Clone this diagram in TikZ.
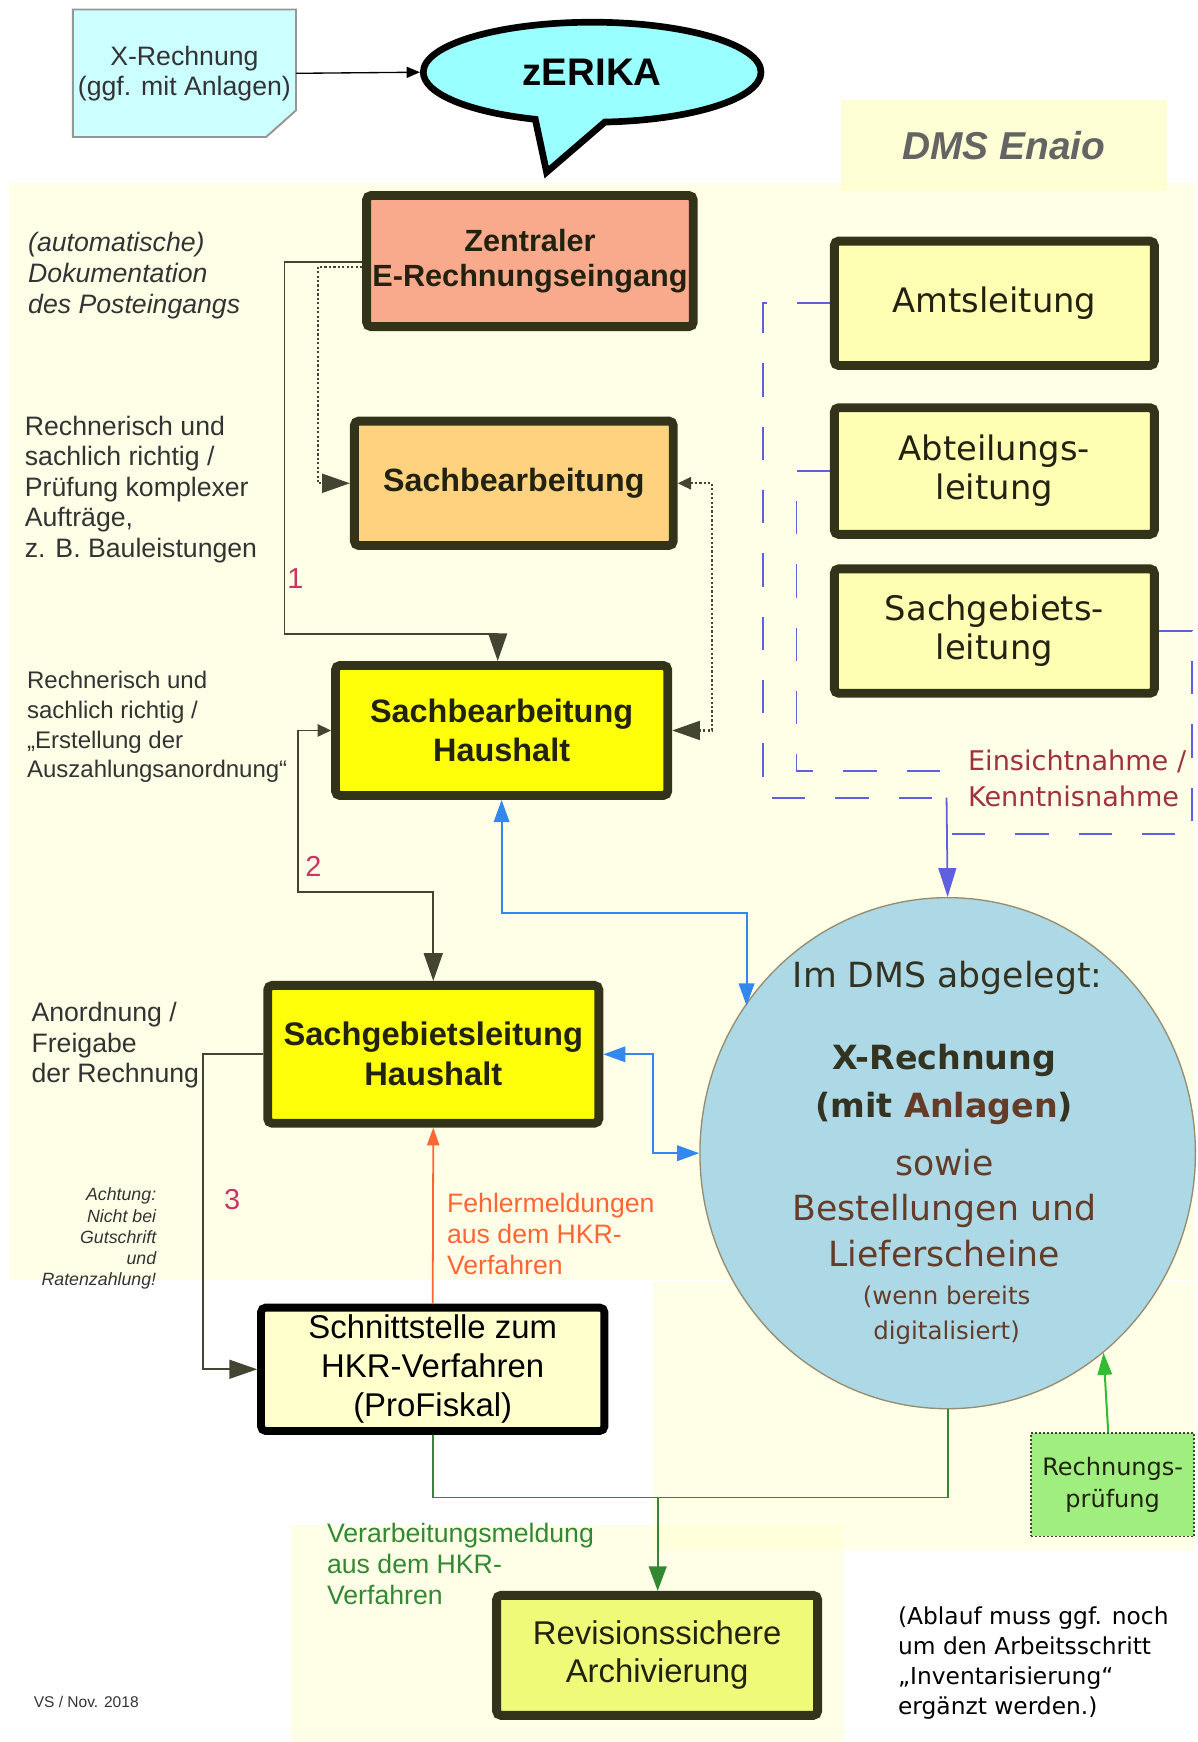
\documentclass[tikz,border=0pt]{standalone}
\usepackage{fontspec}
\setmainfont{Liberation Sans}
\newfontfamily\dejavu{DejaVu Sans}
\usetikzlibrary{arrows.meta,shapes.geometric,shapes.callouts,backgrounds}

\definecolor{bgfill}{RGB}{255,255,204}
\definecolor{boxline}{RGB}{51,51,25}
\definecolor{boxtext}{RGB}{34,34,17}
\definecolor{salmonfill}{RGB}{250,170,140}
\definecolor{orangefill}{RGB}{255,210,128}
\definecolor{hhyellow}{RGB}{255,255,10}
\definecolor{dmsfill}{RGB}{255,255,180}
\definecolor{schnittfill}{RGB}{255,255,204}
\definecolor{archivfill}{RGB}{238,250,120}
\definecolor{notefill}{RGB}{204,255,255}
\definecolor{zerikafill}{RGB}{153,255,255}
\definecolor{circlefill}{RGB}{173,216,230}
\definecolor{circleline}{RGB}{150,140,110}
\definecolor{pruefill}{RGB}{160,238,128}
\definecolor{remarkgray}{RGB}{51,51,51}
\definecolor{stepred}{RGB}{204,51,102}
\definecolor{errorred}{RGB}{255,102,51}
\definecolor{okgreen}{RGB}{51,136,51}
\definecolor{ltgreen}{RGB}{51,187,51}
\definecolor{flowblue}{RGB}{51,136,238}
\definecolor{infoblue}{RGB}{95,95,225}
\definecolor{infored}{RGB}{160,50,60}
\definecolor{brownish}{RGB}{100,60,40}
\definecolor{flowline}{RGB}{68,68,51}

\begin{document}
\begin{tikzpicture}[x=0.5pt,y=-0.5pt,
  flowbox/.style={draw=boxline,line width=4pt,rounded corners=2pt,align=center,inner sep=0pt,text=boxtext},
  hhbox/.style={flowbox,fill=hhyellow,font=\bfseries\fontsize{14.6}{17.5}\selectfont},
  dmsbox/.style={flowbox,fill=dmsfill,minimum width=144pt,font=\dejavu\fontsize{15.2}{17.5}\selectfont},
  remark/.style={anchor=north west,align=left,inner sep=0pt,text=remarkgray,font=\fontsize{12}{13.75}\selectfont},
  circletext/.style={align=center,inner sep=0pt,text=brownish,font=\dejavu\fontsize{15.6}{20.5}\selectfont},
  stepno/.style={inner sep=0pt,text=stepred,font=\fontsize{13}{15}\selectfont},
  flow/.style={draw=flowline,line width=0.8pt},
  dotflow/.style={draw=flowline,line width=1pt,densely dotted},
  blueflow/.style={draw=flowblue,line width=0.9pt},
  infoline/.style={draw=infoblue,line width=0.8pt,dash pattern=on 15pt off 13.5pt},
  bigtip/.tip={Triangle[length=12.5pt,width=8.5pt]},
  smalltip/.tip={Triangle[length=6pt,width=5.5pt]},
  bluetip/.tip={Triangle[length=10pt,width=7pt]},
  greentip/.tip={Triangle[length=11pt,width=8pt]},
  thintip/.tip={Triangle[length=6pt,width=5pt]}]
\useasboundingbox (0,0) rectangle (1078,1568);

\fill[bgfill,fill opacity=0.45] (8,165) rectangle (1075,1152);
\fill[bgfill,fill opacity=0.45] (588,1154) rectangle (1075,1395);
\fill[bgfill,fill opacity=0.45] (262,1373) rectangle (760,1568);
\node[fill=bgfill,fill opacity=0.8,text opacity=1,minimum width=146.5pt,minimum height=41pt,inner sep=0pt,
  text={rgb,255:red,100;green,100;blue,100},font=\bfseries\itshape\fontsize{17.5}{20}\selectfont] (enaio) at (903.5,131) {DMS Enaio};

\node[align=center,inner sep=0pt,minimum width=100pt,minimum height=57pt,text=remarkgray,
  font=\fontsize{12}{13.5}\selectfont] (xr) at (166,66) {X-Rechnung\\(ggf. mit Anlagen)};
\begin{scope}[on background layer]
\filldraw[fill=notefill,draw={rgb,255:red,150;green,150;blue,150},line width=0.8pt]
  (xr.north west) -- (xr.north east) -- ([yshift=12pt]xr.south east)
  -- ([xshift=-13.5pt]xr.south east) -- (xr.south west) -- cycle;
\filldraw[fill={rgb,255:red,170;green,215;blue,225},draw={rgb,255:red,150;green,150;blue,150},line width=0.6pt]
  ([yshift=12pt]xr.south east) -- ([xshift=-13.5pt]xr.south east) -- ([xshift=-10pt,yshift=3pt]xr.south east) -- cycle;
\end{scope}

\node[ellipse callout,draw=black,line width=3pt,fill=zerikafill,minimum width=152pt,minimum height=45pt,inner sep=0pt,
  callout absolute pointer={(492,155)},callout pointer arc=24,
  font=\bfseries\fontsize{17.3}{20}\selectfont] (zerika) at (533,65) {zERIKA};
\draw[line width=0.6pt,-thintip] (xr.east) -- (zerika.west);

\node[flowbox,fill=salmonfill,minimum width=147pt,minimum height=59pt,
  font=\bfseries\fontsize{13.8}{16}\selectfont] (zentral) at (477,235) {Zentraler\\E-Rechnungseingang};
\node[flowbox,fill=orangefill,minimum width=143.5pt,minimum height=56pt,
  font=\bfseries\fontsize{14.5}{17}\selectfont] (sachb) at (462.5,435) {Sachbearbeitung};
\node[hhbox,minimum width=149.5pt,minimum height=58.5pt] (sbhh) at (451.5,657.5) {Sachbearbeitung\\Haushalt};
\node[hhbox,minimum width=149pt,minimum height=62pt,font=\bfseries\fontsize{14.7}{18}\selectfont] (sgl) at (390,949) {Sachgebietsleitung\\Haushalt};
\node[flowbox,draw=black,line width=3.5pt,fill=schnittfill,minimum width=154.5pt,minimum height=55.5pt,text=black,
  font=\fontsize{14.8}{17.5}\selectfont] (schnitt) at (389.5,1232.5) {Schnittstelle zum\\HKR-Verfahren\\(ProFiskal)};
\node[flowbox,fill=archivfill,minimum width=144.5pt,minimum height=54pt,
  font=\fontsize{14.8}{17}\selectfont] (archiv) at (591.5,1490) {Revisionssichere\\Archivierung};

\node[dmsbox,minimum height=56pt] (amt) at (895,273) {Amtsleitung};
\node[dmsbox,minimum height=57pt] (abt) at (895,424) {Abteilungs-\\leitung};
\node[dmsbox,minimum height=56pt] (sgbl) at (895,568) {Sachgebiets-\\leitung};

\node[ellipse,draw=circleline,line width=0.6pt,fill=circlefill,minimum width=223pt,minimum height=230pt,inner sep=0pt] (dms) at (853,1038) {};
\node[circletext,text={rgb,255:red,51;green,51;blue,34}] (dmshead) at (853,880) {Im DMS abgelegt:};
\node[circletext,text={rgb,255:red,51;green,51;blue,34},font=\dejavu\bfseries\fontsize{15}{21.5}\selectfont] (dmsxr) at (850,976) {X-Rechnung\\(mit \textcolor{brownish}{Anlagen})};
\node[circletext] (dmsmore) at (850,1087) {sowie\\Bestellungen und\\Lieferscheine};
\node[circletext,font=\dejavu\fontsize{11}{16}\selectfont] (dmsnote) at (852,1184) {(wenn bereits\\digitalisiert)};

\node[draw=flowline,line width=0.8pt,densely dotted,fill=pruefill,minimum width=73.5pt,minimum height=46.5pt,inner sep=0pt,
  align=center,text=boxtext,font=\dejavu\fontsize{10.8}{14}\selectfont] (pruef) at (1001.5,1336.5) {Rechnungs-\\prüfung};

\node[remark,font=\itshape\fontsize{12}{13.75}\selectfont] (autodoc) at (25,209) {(automatische)\\Dokumentation\\des Posteingangs};
\node[remark] (komplex) at (22,374) {Rechnerisch und\\sachlich richtig /\\Prüfung komplexer\\Aufträge,\\z. B. Bauleistungen};
\node[remark,font=\fontsize{10.8}{13.35}\selectfont] (anweisung) at (24,604) {Rechnerisch und\\sachlich richtig /\\„Erstellung der\\Auszahlungsanordnung“};
\node[remark] (freigabe) at (28,902) {Anordnung /\\Freigabe\\der Rechnung};
\node[remark,anchor=north east,align=right,font=\itshape\fontsize{8}{9.5}\selectfont] (achtung) at (141,1069) {Achtung:\\Nicht bei\\Gutschrift\\und\\Ratenzahlung!};
\node[remark,anchor=west,font=\fontsize{7}{8}\selectfont] (stamp) at (30,1532) {VS / Nov. 2018};
\node[remark,text=errorred] (fehler) at (402,1074) {Fehlermeldungen\\aus dem HKR-\\Verfahren};
\node[remark,text=okgreen] (verarb) at (294,1371) {Verarbeitungsmeldung\\aus dem HKR-\\Verfahren};
\node[remark,text=infored,font=\dejavu\fontsize{12.2}{16}\selectfont] (einsicht) at (871,675) {Einsichtnahme /\\Kenntnisnahme};
\node[remark,text=black,font=\dejavu\fontsize{10.5}{13.5}\selectfont] (ablauf) at (808,1446) {(Ablauf muss ggf. noch\\um den Arbeitsschritt\\„Inventarisierung“\\ergänzt werden.)};

\node[stepno] (step1) at (266,521) {1};
\node[stepno] (step2) at (282,780) {2};
\node[stepno] (step3) at (209,1080) {3};

\coordinate (bend1) at (448,571);
\coordinate (bend2) at (390,803);
\coordinate (bluebend) at (672,822);
\coordinate (hub) at (852,718);
\coordinate (abtend) at (849,694);
\coordinate (sgblend) at (852,751);
\coordinate (gjoin) at (853,1348);
\coordinate (gsplit) at (592,1348);

\draw[flow,-bigtip] ([yshift=-0.5pt]zentral.west) -| (256,400) |- (bend1) -- (bend1 |- sbhh.north);
\draw[dotflow,-bigtip] ([yshift=-2.5pt]zentral.west) -| (286,340) |- (sachb.west);
\draw[dotflow,smalltip-bigtip] (sachb.east) -| (641,546) |- (sbhh.east);
\draw[flow,smalltip-bigtip] (sbhh.west) -| (268,730) |- (bend2) -- (sgl.north);
\draw[flow,-bigtip] (sgl.west) -| (183,1100) |- (schnitt.west);
\draw[draw=errorred,line width=0.8pt,-{Triangle[length=8pt,width=5.5pt]}] (schnitt.north) -- (sgl.south);

\draw[blueflow,bluetip-bluetip] (sbhh.south) |- (bluebend) -- (bluebend |- dms.144);
\draw[blueflow,bluetip-bluetip] (sgl.east) -| (588,1000) |- (dms.west);

\draw[infoline] (amt.west) -| (687,500) |- (hub);
\draw[infoline] (abt.west) -| (717,560) |- (abtend);
\draw[infoline] (sgbl.east) -| (1073,650) |- (sgblend);
\draw[draw=infoblue,line width=0.8pt,-{Triangle[length=13pt,width=8pt]}] (hub) -- (dms.north);

\draw[draw=okgreen,line width=0.8pt] (schnitt.south) |- (gjoin) -- (dms.south);
\draw[draw=okgreen,line width=0.8pt,-greentip] (gsplit) -- (gsplit |- archiv.north);
\draw[draw=ltgreen,line width=0.9pt,-{Triangle[length=10pt,width=6.5pt]}] ([xshift=-2pt]pruef.north) -- (dms.-52);
\end{tikzpicture}
\end{document}
